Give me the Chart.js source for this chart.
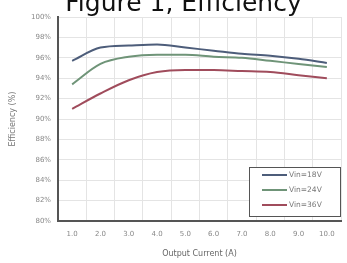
<!DOCTYPE html>
<html>
<head>
<meta charset="utf-8">
<script src="https://cdn.jsdelivr.net/npm/chart.js@4/dist/chart.umd.min.js"></script>
<style>
  html, body { margin: 0; padding: 0; background: #fff; overflow: hidden; }
  #wrap { position: relative; width: 347px; height: 263px; }
  #title {
    position: absolute; left: 0; width: 347px; top: -10px;
    text-align: center; font-family: "DejaVu Sans", sans-serif;
    font-size: 25px; line-height: 26px; color: #111; padding-left: 20px; box-sizing: border-box;
  }
</style>
</head>
<body>
<div id="wrap">
  <canvas id="effChart" width="347" height="263"></canvas>
  <div id="title">Figure 1, Efficiency</div>
</div>
<script>
// data
const currents = ['1.0', '2.0', '3.0', '4.0', '5.0', '6.0', '7.0', '8.0', '9.0', '10.0'];
const vin18 = [95.7, 97.0, 97.2, 97.3, 97.0, 96.7, 96.4, 96.2, 95.9, 95.5];
const vin24 = [93.4, 95.4, 96.1, 96.3, 96.3, 96.1, 96.0, 95.7, 95.4, 95.1];
const vin36 = [91.0, 92.5, 93.8, 94.6, 94.8, 94.8, 94.7, 94.6, 94.3, 94.0];
const seriesNames = ['Vin=18V', 'Vin=24V', 'Vin=36V'];
const seriesColors = ['#4d5d7a', '#6f9478', '#a04c5c'];

// legend box drawn inside the plot, bottom right
const boxLegend = {
  id: 'boxLegend',
  afterDraw(chart) {
    const ctx = chart.ctx;
    const x = 249, y = 167, w = 91, h = 49;
    ctx.save();
    ctx.fillStyle = '#fff';
    ctx.fillRect(x, y, w, h);
    ctx.strokeStyle = '#555';
    ctx.lineWidth = 1;
    ctx.strokeRect(x + 0.5, y + 0.5, w, h);
    ctx.font = '7.5px "DejaVu Sans", sans-serif';
    ctx.textBaseline = 'middle';
    chart.data.datasets.forEach((ds, i) => {
      const ly = y + 8 + i * 15;
      ctx.strokeStyle = ds.borderColor;
      ctx.lineWidth = 2;
      ctx.beginPath();
      ctx.moveTo(262, ly);
      ctx.lineTo(287, ly);
      ctx.stroke();
      ctx.fillStyle = '#777';
      ctx.fillText(ds.label, 289, ly);
    });
    ctx.restore();
  }
};

const ctx = document.getElementById('effChart').getContext('2d');
const effChart = new Chart(ctx, {
  type: 'line',
  data: {
    labels: currents,
    datasets: [vin18, vin24, vin36].map((d, i) => ({
      label: seriesNames[i],
      data: d,
      borderColor: seriesColors[i],
      borderWidth: 2,
      pointRadius: 0,
      cubicInterpolationMode: 'monotone',
      fill: false
    }))
  },
  options: {
    responsive: false,
    animation: false,
    layout: { padding: { top: 17, right: 6, left: 0, bottom: 0 } },
    plugins: {
      legend: { display: false },
      tooltip: { enabled: false }
    },
    scales: {
      x: {
        offset: true,
        grid: { offset: true, color: '#e4e4e4', drawTicks: false },
        border: { color: '#555', width: 2 },
        ticks: { color: '#888', font: { size: 7, family: 'DejaVu Sans' }, padding: 9, maxRotation: 0, autoSkip: false },
        title: { display: true, text: 'Output Current (A)', color: '#666', font: { size: 8, family: 'DejaVu Sans' }, padding: { top: 4 } },
        afterFit(scale) { scale.height = 42; }
      },
      y: {
        min: 80,
        max: 100,
        grid: { color: '#e4e4e4', drawTicks: false },
        border: { color: '#555', width: 2 },
        ticks: { stepSize: 2, color: '#888', font: { size: 7, family: 'DejaVu Sans' }, padding: 7, callback: v => v + '%' },
        title: { display: true, text: 'Efficiency (%)', color: '#777', font: { size: 8, family: 'DejaVu Sans' }, padding: { top: 8, bottom: 0 } },
        afterFit(scale) { scale.width = 58; }
      }
    }
  },
  plugins: [boxLegend]
});
</script>
</body>
</html>
